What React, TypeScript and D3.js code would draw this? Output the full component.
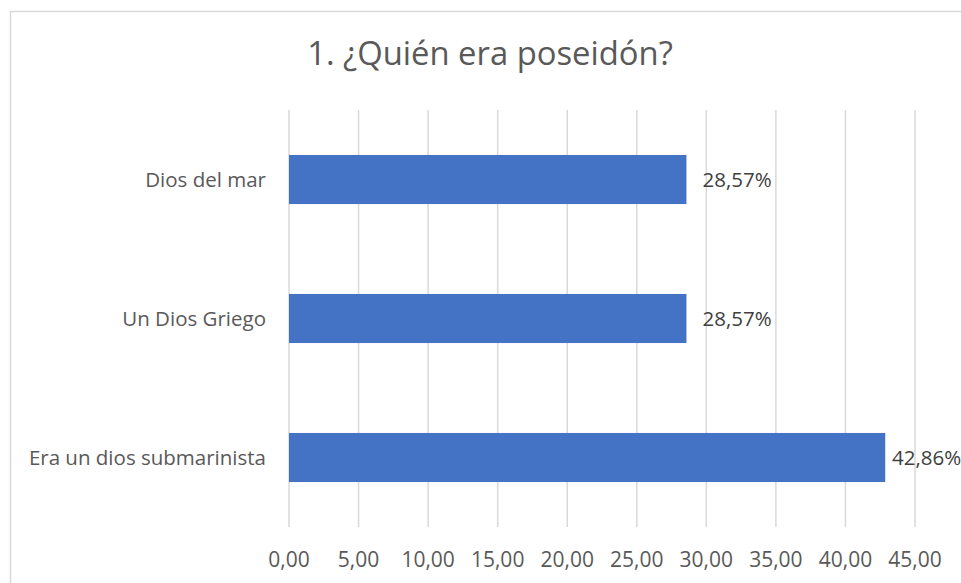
import React from "react";
import * as d3 from "d3";

const categories = ["Dios del mar", "Un Dios Griego", "Era un dios submarinista"];
const values = [28.57, 28.57, 42.86];
const xTicks = [0, 5, 10, 15, 20, 25, 30, 35, 40, 45];
const title = "1. ¿Quién era poseidón?";

const W = 961;
const H = 583;
const FONT = "'Open Sans', sans-serif";
const TEXT = "#595959";
const LABEL_MAX_X = 892; // data labels are pushed inside the chart area, as Excel does

export default function App() {
  const x = d3.scaleLinear().domain([0, 45]).range([289, 915]);
  const y = d3
    .scaleBand<string>()
    .domain(categories)
    .range([110, 527])
    .paddingInner(0.647)
    .paddingOuter(0.3235);
  const fmt = (v: number) => v.toFixed(2).replace(".", ",");

  return (
    <svg
      width={W}
      height={H}
      style={{ position: "absolute", left: 0, top: 0, background: "#fff" }}
      fontFamily={FONT}
    >
      <rect x={0} y={0} width={W} height={H} fill="#fff" />
      <rect x={10.5} y={11.5} width={1000} height={1000} fill="none" stroke="#d9d9d9" strokeWidth={1.5} />
      <text x={490} y={65} textAnchor="middle" fontSize={32.8} fill={TEXT}>
        {title}
      </text>
      {xTicks.map((t) => (
        <line key={"g" + t} x1={x(t)} x2={x(t)} y1={110} y2={527} stroke="#d9d9d9" strokeWidth={1.5} />
      ))}
      {categories.map((c, i) => (
        <g key={c}>
          <rect x={x(0)} y={y(c)!} width={x(values[i]) - x(0)} height={y.bandwidth()} fill="#4472C4" />
          <text
            x={266}
            y={y(c)! + y.bandwidth() / 2}
            dy="0.35em"
            textAnchor="end"
            fontSize={20.5}
            fill={TEXT}
          >
            {c}
          </text>
          <text
            x={Math.min(x(values[i]) + 16, LABEL_MAX_X)}
            y={y(c)! + y.bandwidth() / 2}
            dy="0.35em"
            textAnchor="start"
            fontSize={20.5}
            fill="#404040"
          >
            {fmt(values[i]) + "%"}
          </text>
        </g>
      ))}
      {xTicks.map((t) => (
        <text key={"t" + t} x={x(t)} y={567} textAnchor="middle" fontSize={21} fill={TEXT}>
          {fmt(t)}
        </text>
      ))}
    </svg>
  );
}
